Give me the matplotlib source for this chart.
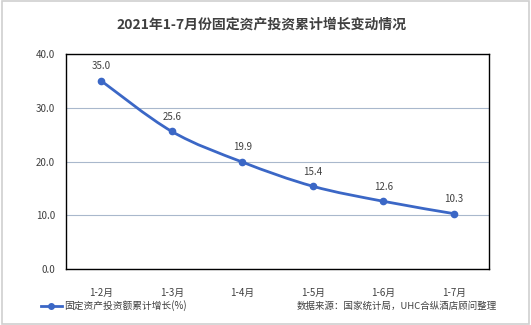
import matplotlib.pyplot as plt
from matplotlib.lines import Line2D
from matplotlib.patches import Rectangle, PathPatch
from matplotlib.path import Path

plt.rcParams['font.family'] = ['Noto Sans CJK SC', 'DejaVu Sans']

months = ['1-2月', '1-3月', '1-4月', '1-5月', '1-6月', '1-7月']
growth = [35.0, 25.6, 19.9, 15.4, 12.6, 10.3]
yticks = [0, 10, 20, 30, 40]

line_color = '#3B67C6'
text_color = '#404040'

fig = plt.figure(figsize=(5.31, 3.25), dpi=100)
fig.patches.append(Rectangle((0.003, 0.004), 0.994, 0.992, transform=fig.transFigure,
                             fill=False, edgecolor='#D0D0D0', linewidth=1.2))

ax = fig.add_axes([66 / 531, 1 - 269 / 325, 423 / 531, 215 / 325])
x = list(range(len(months)))

# smoothed line (Catmull-Rom style bezier through the data points)
verts = [(x[0], growth[0])]
codes = [Path.MOVETO]
n = len(x)
for i in range(n - 1):
    p0 = (x[i - 1], growth[i - 1]) if i > 0 else (x[i], growth[i])
    p1 = (x[i], growth[i])
    p2 = (x[i + 1], growth[i + 1])
    p3 = (x[i + 2], growth[i + 2]) if i + 2 < n else p2
    c1 = (p1[0] + (p2[0] - p0[0]) / 6, p1[1] + (p2[1] - p0[1]) / 6)
    c2 = (p2[0] - (p3[0] - p1[0]) / 6, p2[1] - (p3[1] - p1[1]) / 6)
    verts += [c1, c2, p2]
    codes += [Path.CURVE4] * 3
ax.add_patch(PathPatch(Path(verts, codes), fill=False, edgecolor=line_color,
                       linewidth=2, capstyle='round', joinstyle='round'))
ax.plot(x, growth, linestyle='none', marker='o', markersize=4.5, color=line_color)

for xi, v in zip(x, growth):
    ax.annotate(f'{v:.1f}', (xi, v), xytext=(0, 7), textcoords='offset points',
                ha='center', va='bottom', fontsize=7, color=text_color)

ax.set_xlim(-0.5, 5.5)
ax.set_ylim(0, 40)
ax.set_xticks(x)
ax.set_xticklabels(months)
ax.set_yticks(yticks)
ax.set_yticklabels([f'{t:.1f}' for t in yticks])
ax.tick_params(length=0, labelsize=7, labelcolor=text_color)
ax.tick_params(axis='x', pad=14)
ax.tick_params(axis='y', pad=8)
ax.grid(axis='y', color='#A9B8CC', linewidth=0.8)
ax.set_axisbelow(True)
for s in ax.spines.values():
    s.set_color('black')
    s.set_linewidth(1.0)

fig.text(261.5 / 531, 1 - 25 / 325, '2021年1-7月份固定资产投资累计增长变动情况', ha='center', va='center',
         fontsize=10, fontweight='bold', color=text_color)

handle = Line2D([], [], color=line_color, linewidth=2, marker='o', markersize=4)
fig.legend([handle], ['固定资产投资额累计增长(%)'], loc='center left',
           bbox_to_anchor=(32 / 531, 1 - 306 / 325), frameon=False, fontsize=7,
           handlelength=2.2, handletextpad=0.2, labelcolor=text_color)

fig.text(497 / 531, 1 - 306 / 325, '数据来源：国家统计局，UHC合纵酒店顾问整理', ha='right', va='center',
         fontsize=6.8, color=text_color)

plt.savefig('out.png', dpi=100)
